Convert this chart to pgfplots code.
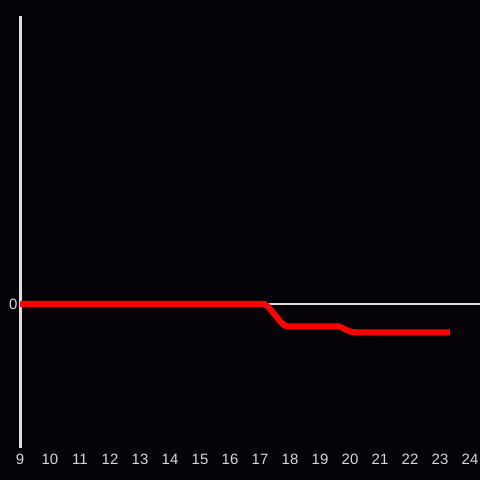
\documentclass[border=0pt]{standalone}
\usepackage{pgfplots}
\pgfplotsset{compat=1.18}
\usepackage{fontspec}
\setmainfont{Liberation Sans}
\definecolor{bg}{RGB}{5,3,8}
\definecolor{axisgray}{RGB}{222,222,222}
\definecolor{labgray}{RGB}{215,215,215}
\begin{document}
\begin{tikzpicture}[x=1bp,y=1bp]
\fill[bg] (0,0) rectangle (480,480);
\begin{axis}[
  at={(20bp,32bp)}, anchor=south west,
  scale only axis, width=460bp, height=432bp,
  xmin=9, xmax=24.3333, ymin=-144, ymax=288,
  axis line style={draw=none},
  xtick={9,...,24}, ytick={0},
  major tick length=0pt,
  tick label style={font=\fontsize{15}{17}\selectfont, text=labgray},
  /pgf/number format/assume math mode=true,
  xticklabel style={yshift=-3bp},
  yticklabel style={xshift=1bp},
  clip=false,
]
\draw[axisgray, line width=2.5bp] (axis cs:9,0) -- (axis cs:24.3333,0);
\draw[axisgray, line width=3bp] (axis cs:9,-144) -- (axis cs:9,288);
\addplot[red, line width=6bp, line join=round, mark=none] coordinates {
 (9,0) (17.15,0) (17.25,-2) (17.72,-19) (17.85,-22) (18.0,-22.5)
 (19.65,-22.5) (19.85,-25.5) (20.05,-28) (20.3,-28.5) (23.33,-28.5)
};
\end{axis}
\pgfresetboundingbox
\useasboundingbox (0,0) rectangle (480,480);
\end{tikzpicture}
\end{document}
